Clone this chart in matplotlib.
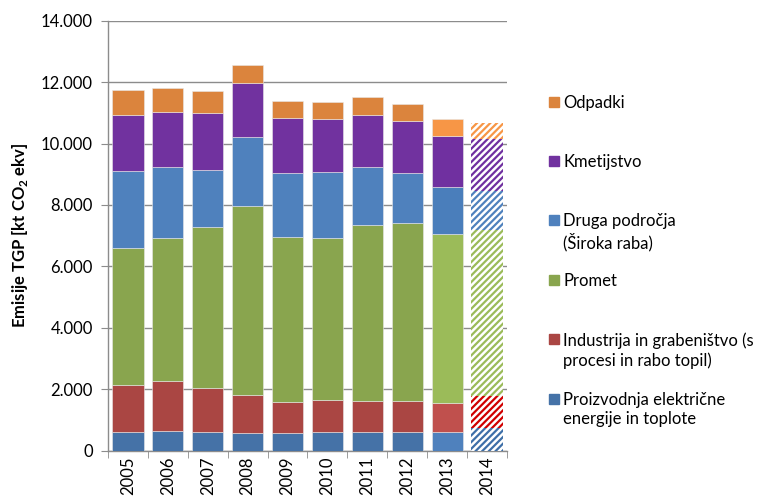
import matplotlib
matplotlib.use('Agg')
import matplotlib.pyplot as plt
from matplotlib.patches import Rectangle
from matplotlib.ticker import FuncFormatter

plt.rcParams['font.family'] = ['Lato', 'DejaVu Sans']
plt.rcParams['hatch.linewidth'] = 1.6
plt.rcParams['mathtext.fontset'] = 'custom'
plt.rcParams['mathtext.rm'] = 'Lato'
plt.rcParams['mathtext.bf'] = 'Lato:bold'

years = ['2005', '2006', '2007', '2008', '2009', '2010', '2011', '2012', '2013', '2014']

# emissions by sector, kt CO2 ekv
proizvodnja = [630, 650, 630, 570, 580, 600, 630, 630, 620, 760]
industrija = [1520, 1620, 1420, 1250, 1020, 1060, 1000, 1000, 940, 1010]
promet = [4440, 4660, 5240, 6160, 5350, 5270, 5710, 5790, 5480, 5400]
druga = [2520, 2300, 1840, 2230, 2100, 2140, 1890, 1630, 1560, 1280]
kmetijstvo = [1810, 1800, 1870, 1760, 1790, 1730, 1700, 1690, 1660, 1690]
odpadki = [810, 760, 720, 590, 550, 560, 580, 540, 550, 540]

series = [proizvodnja, industrija, promet, druga, kmetijstvo, odpadki]
labels = ['Proizvodnja električne\nenergije in toplote',
          'Industrija in grabeništvo (s\nprocesi in rabo topil)',
          'Promet',
          'Druga področja\n(Široka raba)',
          'Kmetijstvo',
          'Odpadki']

# colours: 2005-2012, 2013, 2014 (projection, hatched)
col_old = ['#4572A7', '#AA4643', '#89A54E', '#4F81BD', '#71329F', '#DB843D']
col_2013 = ['#4F81BD', '#C0504D', '#9BBB59', '#4A7EBB', '#7030A0', '#F79646']
col_2014 = ['#3E6FA8', '#D00000', '#9BBB59', '#4F81BD', '#7030A0', '#F79646']

fig = plt.figure(figsize=(7.77, 5.01), dpi=100)
ax = fig.add_axes([0.139, 0.1, 0.5135, 0.859])

x = list(range(len(years)))
w = 0.78
bottom = [0] * len(years)
for s in range(len(series)):
    vals = series[s]
    for i in x:
        if i < 8:
            ax.bar(i, vals[i], w, bottom=bottom[i], color=col_old[s],
                   edgecolor='#e8e8e8', linewidth=0.4, zorder=3)
        elif i == 8:
            ax.bar(i, vals[i], w, bottom=bottom[i], color=col_2013[s],
                   edgecolor='#e8e8e8', linewidth=0.4, zorder=3)
        else:
            ax.bar(i, vals[i], w, bottom=bottom[i], color='white',
                   edgecolor=col_2014[s], hatch='/////', linewidth=0, zorder=3)
    bottom = [bottom[i] + vals[i] for i in x]

ax.set_ylim(0, 14000)
ax.set_xlim(-0.5, len(years) - 0.5)
ax.set_yticks(range(0, 14001, 2000))
ax.yaxis.set_major_formatter(FuncFormatter(lambda v, p: '0' if v == 0 else '{:,.0f}'.format(v).replace(',', '.')))
ax.yaxis.grid(True, color='#8c8c8c', linewidth=1.0, zorder=0)
ax.set_axisbelow(True)

ax.set_xticks(x)
ax.set_xticklabels(years, rotation=90, fontsize=12)
ax.set_xticks([i + 0.5 for i in range(-1, len(years))], minor=True)
ax.tick_params(axis='x', which='major', length=0, pad=4)
ax.tick_params(axis='x', which='minor', length=5, color='#8c8c8c', direction='out')
ax.tick_params(axis='y', labelsize=12, length=5, color='#8c8c8c', pad=6)

for sp in ['top', 'right']:
    ax.spines[sp].set_visible(False)
for sp in ['left', 'bottom']:
    ax.spines[sp].set_color('#8c8c8c')
    ax.spines[sp].set_linewidth(1.0)

ax.set_ylabel(r'Emisije TGP [kt CO$_\mathbf{2}$ ekv]', fontsize=12, fontweight='bold', labelpad=8)

# legend drawn by hand, top entry first, handle next to first line
leg_y = 0.798
for k in range(len(series) - 1, -1, -1):
    fig.patches.append(Rectangle((0.7065, leg_y - 0.011), 0.0125, 0.02,
                                 transform=fig.transFigure, color=col_old[k]))
    fig.text(0.725, leg_y + 0.013, labels[k], fontsize=12, va='top', ha='left',
             linespacing=1.25)
    leg_y -= 0.1185

fig.savefig('out.png', dpi=100)
